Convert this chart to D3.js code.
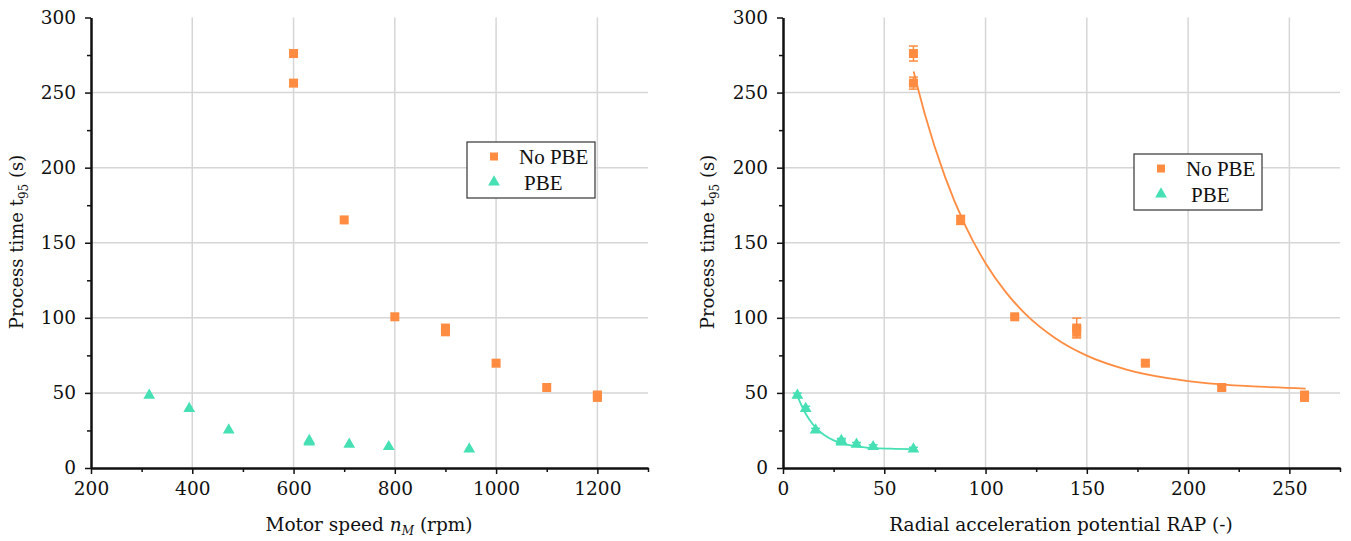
<!DOCTYPE html>
<html>
<head>
<meta charset="utf-8">
<script src="https://cdn.jsdelivr.net/npm/d3@7"></script>
<style>
body { margin: 0; background: #fff; }
text { font-family: "DejaVu Serif", serif; fill: #111; }
.legend text { font-family: "Liberation Serif", serif; }
</style>
</head>
<body>
<div id="chart"></div>
<script>
// values

// left panel: motor speed (rpm) vs t95 (s)
const speedNoPBE = [600, 600, 700, 800, 900, 900, 1000, 1100, 1200, 1200];
const timeNoPBE  = [276, 256.3, 165.2, 100.7, 93.2, 90.7, 69.8, 53.6, 48.6, 47];
const speedPBE   = [315, 394, 472, 631, 631, 710, 788, 947];
const timePBE    = [48.4, 39.6, 25.2, 18.2, 17.2, 15.8, 14.2, 12.6];

// right panel: RAP (-) vs t95 (s), with error bars
const rapNoPBE     = [64.4, 64.4, 87.7, 114.4, 145, 145, 178.9, 216.6, 257.5, 257.5];
const rapTimeNoPBE = [276, 256.3, 165.2, 100.7, 93.2, 90.7, 69.8, 53.6, 48.6, 47];
const rapErrNoPBE  = [5, 4, 3, 1, 6.6, 3.5, 1.2, 1.5, 1.2, 1.2];
const rapPBE       = [7.1, 11.2, 16.1, 28.8, 28.8, 36.3, 44.5, 64.4];
const rapTimePBE   = [48.4, 39.6, 25.2, 18.2, 17.2, 15.8, 14.2, 12.6];
const rapErrPBE    = [1.5, 1.5, 1.2, 1.5, 1.5, 1.2, 1.2, 1.2];

// fitted curves
const fitNoPBEx = [64.5, 70, 80, 90, 100, 110, 120, 135, 150, 170, 190, 210, 230, 258];
const fitNoPBEy = [264, 235.8, 193.9, 161.4, 136.4, 117.1, 102.1, 85.9, 74.8, 65.4, 59.8, 56.4, 54.5, 52.9];
const fitPBEx   = [7, 9, 11, 13, 16, 20, 25, 30, 38, 46, 55, 64.5];
const fitPBEy   = [48.5, 42, 36.6, 32.3, 27.1, 22.3, 18.4, 16.1, 14.1, 13.2, 12.8, 12.6];

// ticks
const yMajor = [0, 50, 100, 150, 200, 250, 300];
const yMinor = [25, 75, 125, 175, 225, 275];
const speedMajor = [200, 400, 600, 800, 1000, 1200];
const speedMinor = [300, 500, 700, 900, 1100, 1300];
const rapMajor = [0, 50, 100, 150, 200, 250];
const rapMinor = [25, 75, 125, 175, 225, 275];

const seriesNames = ["No PBE", "PBE"];
const orange = "#ff8c40";
const teal = "#46e0b4";

const W = 1351, H = 541;
const svg = d3.select("#chart").append("svg")
    .attr("width", W)
    .attr("height", H);

const y = d3.scaleLinear().domain([0, 300]).range([468, 17.5]);

function panel(xDomain, xRange, xMajor, xMinor, gridX){
    const x = d3.scaleLinear().domain(xDomain).range(xRange);
    const g = svg.append("g");

    // grid
    g.append("g").selectAll("line.gx")
        .data(gridX)
        .join("line")
        .attr("x1", d => x(d)).attr("x2", d => x(d))
        .attr("y1", y(0)).attr("y2", y(300))
        .attr("stroke", "#d6d6d6").attr("stroke-width", 1.5);
    g.append("g").selectAll("line.gy")
        .data([50, 100, 150, 200, 250])
        .join("line")
        .attr("x1", xRange[0]).attr("x2", xRange[1])
        .attr("y1", d => y(d)).attr("y2", d => y(d))
        .attr("stroke", "#d6d6d6").attr("stroke-width", 1.5);

    // axes
    g.append("g")
        .attr("transform", "translate(0," + y(0) + ")")
        .call(d3.axisBottom(x).tickValues(xMajor).tickFormat(d3.format("d"))
            .tickSize(6).tickPadding(8).tickSizeOuter(0));
    g.append("g")
        .attr("transform", "translate(0," + y(0) + ")")
        .call(d3.axisBottom(x).tickValues(xMinor).tickSize(4).tickFormat("").tickSizeOuter(0));
    g.append("g")
        .attr("transform", "translate(" + xRange[0] + ",0)")
        .call(d3.axisLeft(y).tickValues(yMajor).tickFormat(d3.format("d"))
            .tickSize(6).tickPadding(9).tickSizeOuter(0));
    g.append("g")
        .attr("transform", "translate(" + xRange[0] + ",0)")
        .call(d3.axisLeft(y).tickValues(yMinor).tickSize(4).tickFormat("").tickSizeOuter(0));

    g.selectAll(".domain").attr("stroke", "#111").attr("stroke-width", 2);
    g.selectAll(".tick line").attr("stroke", "#111").attr("stroke-width", 1.5);
    g.selectAll(".tick text")
        .style("font-family", "'DejaVu Serif', serif")
        .style("font-size", "18.5px")
        .attr("fill", "#111");
    return {x: x, g: g};
}

function squares(g, x, xs, ys){
    g.append("g").selectAll("rect")
        .data(xs)
        .join("rect")
        .attr("x", (d, i) => x(d) - 4.5)
        .attr("y", (d, i) => y(ys[i]) - 4.5)
        .attr("width", 9).attr("height", 9)
        .attr("fill", orange);
}

function triangles(g, x, xs, ys){
    const tri = d3.symbol().type(d3.symbolTriangle).size(60);
    g.append("g").selectAll("path")
        .data(xs)
        .join("path")
        .attr("d", tri)
        .attr("transform", (d, i) => "translate(" + x(d) + "," + y(ys[i]) + ")")
        .attr("fill", teal);
}

function errorBars(g, x, xs, ys, errs, color){
    const eb = g.append("g").attr("stroke", color).attr("stroke-width", 1.5);
    xs.forEach((d, i) => {
        const cx = x(d), y1 = y(ys[i] - errs[i]), y2 = y(ys[i] + errs[i]);
        eb.append("line").attr("x1", cx).attr("x2", cx).attr("y1", y1).attr("y2", y2);
        eb.append("line").attr("x1", cx - 4.5).attr("x2", cx + 4.5).attr("y1", y1).attr("y2", y1);
        eb.append("line").attr("x1", cx - 4.5).attr("x2", cx + 4.5).attr("y1", y2).attr("y2", y2);
    });
}

function legend(x0, y0){
    const lg = svg.append("g").attr("class", "legend").attr("transform", "translate(" + x0 + "," + y0 + ")");
    lg.append("rect")
        .attr("width", 128).attr("height", 56)
        .attr("fill", "#fff").attr("stroke", "#444").attr("stroke-width", 1.3);
    lg.append("rect").attr("x", 23).attr("y", 10.5).attr("width", 8).attr("height", 8).attr("fill", orange);
    lg.append("path").attr("d", d3.symbol().type(d3.symbolTriangle).size(60))
        .attr("transform", "translate(27,40)").attr("fill", teal);
    lg.append("text").attr("x", 52).attr("y", 22).style("font-size", "21px").text(seriesNames[0]);
    lg.append("text").attr("x", 57).attr("y", 48).style("font-size", "21px").text(seriesNames[1]);
}

function yTitle(cx){
    const t = svg.append("text")
        .attr("transform", "translate(" + cx + "," + 242 + ") rotate(-90)")
        .attr("text-anchor", "middle")
        .style("font-size", "18px");
    t.append("tspan").text("Process time t");
    t.append("tspan").attr("dy", 5).style("font-size", "12px").text("95");
    t.append("tspan").attr("dy", -5).text(" (s)");
}

// left panel
const L = panel([200, 1300], [91, 648], speedMajor, speedMinor, [400, 600, 800, 1000, 1200]);
squares(L.g, L.x, speedNoPBE, timeNoPBE);
triangles(L.g, L.x, speedPBE, timePBE);
legend(467, 142);
yTitle(23);
const lx = svg.append("text")
    .attr("x", 369).attr("y", 531)
    .attr("text-anchor", "middle")
    .style("font-size", "18.5px");
lx.append("tspan").text("Motor speed ");
lx.append("tspan").style("font-style", "italic").text("n");
lx.append("tspan").attr("dy", 4).style("font-style", "italic").style("font-size", "12px").text("M");
lx.append("tspan").attr("dy", -4).text(" (rpm)");

// right panel
const R = panel([0, 275], [783, 1340], rapMajor, rapMinor, [50, 100, 150, 200, 250]);
const line = d3.line().curve(d3.curveMonotoneX);
R.g.append("path")
    .attr("d", line(fitNoPBEx.map((d, i) => [R.x(d), y(fitNoPBEy[i])])))
    .attr("fill", "none").attr("stroke", orange).attr("stroke-width", 1.8);
R.g.append("path")
    .attr("d", line(fitPBEx.map((d, i) => [R.x(d), y(fitPBEy[i])])))
    .attr("fill", "none").attr("stroke", teal).attr("stroke-width", 1.8);
errorBars(R.g, R.x, rapNoPBE, rapTimeNoPBE, rapErrNoPBE, orange);
errorBars(R.g, R.x, rapPBE, rapTimePBE, rapErrPBE, teal);
squares(R.g, R.x, rapNoPBE, rapTimeNoPBE);
triangles(R.g, R.x, rapPBE, rapTimePBE);
legend(1134, 154);
yTitle(714);
svg.append("text")
    .attr("x", 1061).attr("y", 531)
    .attr("text-anchor", "middle")
    .style("font-size", "18.5px")
    .text("Radial acceleration potential RAP (-)");
</script>
</body>
</html>
